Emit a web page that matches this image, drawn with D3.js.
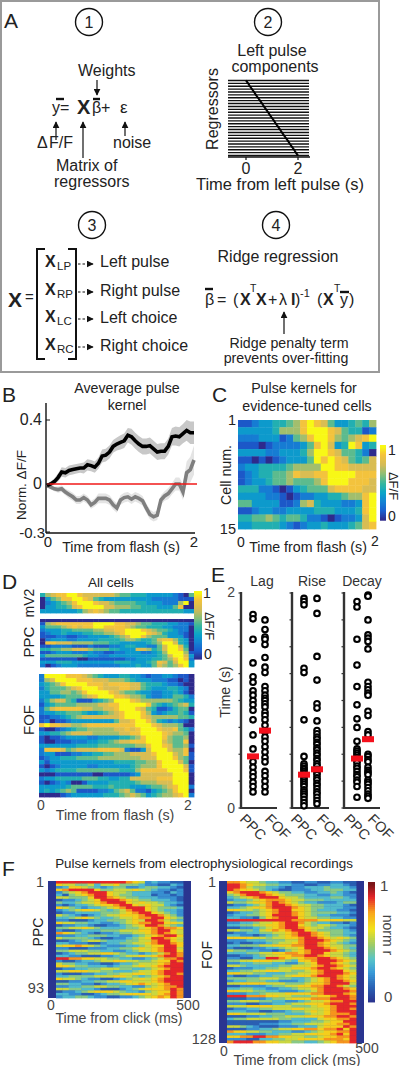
<!DOCTYPE html>
<html><head><meta charset="utf-8">
<script src="https://cdn.jsdelivr.net/npm/d3@7"></script>
<style>html,body{margin:0;padding:0;background:#fff}svg{display:block}text{font-family:"Liberation Sans",Arial,sans-serif;fill:#222}</style>
</head><body><svg id="c" width="400" height="1066"></svg>
<script>
// ---------- data ----------
const regressorPeaks=[0,.08,.15,.23,.31,.38,.46,.54,.62,.69,.77,.85,.92,1,1.08,1.15,1.23,1.31,1.38,1.46,1.54,1.62,1.69,1.77,1.85,1.92,2];
const timeB=[0,.05,.1,.15,.2,.25,.3,.35,.4,.45,.5,.55,.6,.65,.7,.75,.8,.85,.9,.95,1,1.05,1.1,1.15,1.2,1.25,1.3,1.35,1.4,1.45,1.5,1.55,1.6,1.65,1.7,1.75,1.8,1.85,1.9,1.95,2];
const kernelBlack=[-.01,0,.015,.04,.075,.07,.085,.09,.095,.1,.1,.12,.115,.105,.13,.175,.18,.2,.235,.25,.26,.27,.305,.295,.27,.25,.235,.235,.24,.22,.2,.205,.205,.235,.295,.3,.295,.315,.335,.32,.32];
const semBlack=[.01,.015,.02,.025,.03,.03,.03,.03,.03,.03,.035,.035,.035,.035,.035,.04,.04,.04,.04,.04,.045,.045,.045,.05,.05,.05,.05,.05,.05,.05,.05,.05,.05,.05,.055,.06,.06,.06,.065,.07,.07];
const kernelGray=[-.01,-.02,-.03,-.035,-.03,-.05,-.065,-.08,-.1,-.1,-.085,-.1,-.13,-.115,-.09,-.09,-.09,-.1,-.13,-.15,-.1,-.085,-.08,-.095,-.08,-.09,-.105,-.15,-.19,-.205,-.195,-.1,-.075,-.06,-.03,0,0,-.05,.07,.09,.15];
const semGray=[.01,.015,.015,.02,.02,.02,.025,.025,.025,.025,.025,.025,.025,.025,.03,.03,.03,.03,.03,.03,.03,.03,.03,.03,.03,.03,.03,.03,.03,.03,.03,.03,.03,.035,.035,.04,.04,.05,.07,.08,.09];
const ticksB=[0.4,0,-0.3];

const heatC=["11233445689875334546","33333466689998754412","22233312568998656789","11101222235897349834","33332233346998755420","11010123335989875457","23344445666699887777","12344556877889999888","12334556555689998887","44422101345557888877","33332210122334456689","55333311267433322389","11233223333444333489","44556545542210122379","33444432123343334578"];
const heatMV2=["46788998777777655444333332105","03568899875433333333322222111","02345689998776555544333222690","03344578999977666554443335800","33333334678765544444444444433"];
const heatPPC=["00000000000000000000000000000","16788888889999887765544433221","35556787889988887655444332220","23334455556677889998765543220","12334333445566789999876433210","11122112233334567998655533310","02333223333444456654457886430","08877766665554433333456997430","11222211121112234433225799740","44556677765554433377645799850","11233322232211223332234699961","35555555433223333333334579973","11111110011111112233344568982","33344433333333444333458757993","20123332222222233343357656893"];
const heatFOF=["29999888765433344332122332110","26799998887776665433322211010","34568999988878888775444322100","24555678999877788775433344320","33556656899998765543322334310","33334555678999887665322335542","24677541113456999876666665433","13455556666778899999854345674","25788888776677899987541124550","23344555433456789998632344541","11223456777777789998766666554","12011233333333577899864323210","89887766788888888899987666500","10012345566666778789998778542","33445677776666677889999876650","10112333322333344568999865560","10011122233445677888999765580","33333334444555555566899875561","28887567777888872113799976680","23311122334455666777789997681","12334445555666666667779998651","31333333333333444455668999750","10123333322333333456668999971","32344445555555544468888899981","00011111110011111237777779990","23344444555443344777778889990","10123200133334444456667779990","33333455554445444333455678992","34345651111223567522134568990","00001233333344456765345667892"];
const heatF1=["88888888888765232211","65544535564443221132","23665432344223443321","67888864455565432212","24567888655433322132","31456788654433312212","55444688765443332221","12234568887654433321","43345567888656554332","21233456678865655321","65432334567888654443","23456654345788654332","12233334445678865432","54321234556667887542","33456543345567788654","22111233444565887543","65544332234567788665","12233211223456887543","44556543333445678776","21123334445556678865","76543212234455678765","22233444332234567886","54444321122345688765","11234554333445578865","33222112334455678876","56676543222334566886","22111222334456567885","44555443322345567886","12344556654332345787","33221112234556567887","88776655443322345778","21123345566554456687","54433221123345556788","66544333234456567888","12233445554433456788","55666554433345567888","21112233445566567887","33444455566543456788","65543221123456567888","11223344556655567888","44332212334567656788","22334455443322456778","55443321112345666787","12234566654332456687","33221123445666656787","23344322112234567687"];
const heatF2=["77655433221122112211","88765544332211223321","88754433212233343332","87665432112223344433","67888765443322334321","45788876544433223322","34567888655433334432","23345677765544433333","54456678765433222344","12234578876554433321","33456678887654433322","66554567886654333221","12334567887654444332","23344568887654332221","33221467888655443322","88888888887777666655","22334556788754332212","33445566788654554332","11223456788765543321","55443567678865444432","12233445567887654433","33221234567887654432","66665545566788765654","22233344455788876543","12112234556788765432","33444556667788765544","21112233455688876543","54433221245678887654","33344556677678865543","11223455667788765543","22113388765677887654","44556665543667888765","22334443322456887654","55433333445556788765","12223344556667887654","33445566554456788865","66554433344556788876","21122334456667888765","44444555443345678765","23344433222345678876","55666655544456678885","11222234455667788754","33443322334556788876","66554433222345788887","22233455566667788876","88877766554445667887","11122234456667778887","44555443322345567788","22211223345566678887","55566665554445667888","12233445556655567887","33322112234456567888","66555544433345567778","11122334455566677887","34455555443333566778","11111111223334456688","11111222334455566778","55432111222333566687","11122334556677677868","76655443332234566778","33322233445566667868","66778877665544566778","22211334455666677768","78887766554433456778"];

const lagPPC=[1.8,1.76,1.57,1.35,1.22,1.17,1.09,1.05,1,.96,.91,.82,.68,.55,.43,.38,.33,.29,.24,.2,.15];
const lagFOF=[1.75,1.66,1.59,1.57,1.52,1.4,1.31,1.26,1.13,1.09,1.05,1.02,1,.97,.94,.89,.86,.82,.77,.71,.66,.62,.57,.52,.47,.43,.34,.3,.25,.2,.15];
const risePPC=[1.95,1.92,1.89,1.3,1.26,.82,.48,.41,.39,.37,.36,.34,.32,.3,.28,.26,.24,.22,.2,.17,.15,.13,.11,.08,.05,.02];
const riseFOF=[1.95,1.81,1.41,1.19,.97,.93,.81,.72,.69,.66,.64,.61,.59,.56,.54,.51,.49,.46,.44,.41,.39,.36,.33,.31,.28,.26,.23,.21,.18,.15,.13,.1,.07,.04];
const decayPPC=[1.92,1.87,1.57,1.33,1.13,.96,.83,.75,.62,.55,.53,.51,.49,.47,.44,.42,.39,.37,.34,.31,.29,.26,.24,.2,.1];
const decayFOF=[1.98,1.97,1.75,1.61,1.58,1.55,1.48,1.17,1.13,1.1,1.07,1.05,.9,.86,.71,.68,.5,.48,.45,.43,.38,.35,.33,.31,.26,.24,.22,.19,.16,.13,.11,.09];
const medians=[.48,.72,.31,.36,.46,.64];
const timeTicksE=[0,.25,.5,.75,1,1.25,1.5,1.75,2];

// ---------- helpers ----------
const svg=d3.select("#c");
const defs=svg.append("defs");
defs.append("marker").attr("id","ah").attr("viewBox","0 0 10 10").attr("refX",9).attr("refY",5)
  .attr("markerWidth",7).attr("markerHeight",7).attr("markerUnits","userSpaceOnUse").attr("orient","auto")
  .append("path").attr("d","M0,0L10,5L0,10Z").attr("fill","#111");
defs.append("filter").attr("id","soft").attr("x","-2%").attr("y","-2%").attr("width","104%").attr("height","104%")
  .append("feGaussianBlur").attr("stdDeviation",.45);
function T(x,y,s,o={}){
  const e=svg.append("text").attr("x",x).attr("y",y).text(s)
    .attr("font-size",o.size||14).attr("text-anchor",o.a||"start");
  if(o.w)e.attr("font-weight",o.w);
  if(o.fill)e.style("fill",o.fill);
  if(o.rot!=null)e.attr("transform",`rotate(${o.rot} ${x} ${y})`);
  return e;
}
function L(x1,y1,x2,y2,o={}){
  const e=svg.append("line").attr("x1",x1).attr("y1",y1).attr("x2",x2).attr("y2",y2)
    .attr("stroke",o.c||"#111").attr("stroke-width",o.w||1.2);
  if(o.arrow)e.attr("marker-end","url(#ah)");
  if(o.dash)e.attr("stroke-dasharray",o.dash);
  return e;
}
const circledNum=(x,y,n)=>{
  svg.append("circle").attr("cx",x).attr("cy",y).attr("r",13.5).attr("fill","#fff").attr("stroke","#111").attr("stroke-width",1.4);
  T(x,y+6,n,{size:16,a:"middle"});
};
const parula=d3.scaleLinear().domain([0,.125,.25,.375,.5,.625,.75,.9,1])
  .range(["#2f2a8c","#1a5fd0","#1483d4","#0ba6c8","#36b79f","#8abf78","#d2bb58","#f6c43a","#f8f814"]);
const jet=d3.scaleLinear().domain([0,.12,.25,.36,.48,.62,.76,.89,1])
  .range(["#2a3590","#2a62b5","#3a9bd8","#58c4c8","#9ccb6a","#f2e21c","#f9a51c","#e5262a","#7a1518"]);
function heat(rows,x0,x1,y0,y1,color,bg){
  const g=svg.append("g").attr("filter","url(#soft)");
  if(bg)g.append("rect").attr("x",bg[0]).attr("width",bg[1]-bg[0]).attr("y",y0).attr("height",y1-y0).attr("fill",color(0));
  const nc=rows[0].length;
  const x=d3.scaleBand().domain(d3.range(nc)).range([x0,x1]);
  const y=d3.scaleBand().domain(d3.range(rows.length)).range([y0,y1]);
  rows.forEach((r,i)=>{
    g.selectAll(null).data(r.split("")).enter().append("rect")
      .attr("x",(d,j)=>x(j)).attr("y",y(i)).attr("width",x.bandwidth()+.4).attr("height",y.bandwidth()+.4)
      .attr("fill",d=>color(+d/9));
  });
}
function cbar(x0,x1,y0,y1,color){
  const y=d3.scaleLinear().domain([1,0]).range([y0,y1]);
  const g=svg.append("g");
  g.selectAll(null).data(d3.range(0,1.0001,1/60)).enter().append("rect")
    .attr("x",x0).attr("width",x1-x0).attr("y",d=>y(d)-1).attr("height",(y1-y0)/60+1.5).attr("fill",d=>color(d));
}

// ---------- panel A ----------
svg.append("rect").attr("x",1).attr("y",1).attr("width",378).attr("height",371).attr("fill","#fff").attr("stroke","#9a9a9a").attr("stroke-width",2);
T(4,28,"A",{size:21});
circledNum(89,22,"1");circledNum(268,22,"2");circledNum(92,225,"3");circledNum(276,225,"4");

T(78,76,"Weights",{size:16});
L(97,80,97,95,{arrow:1});
T(52,113,"y",{size:16});T(60,113,"=",{size:16});
L(56,99,64,99,{w:2.4});
T(77,114,"X",{size:20,w:"bold"});
T(92,113,"β",{size:16});L(93,99,100,99,{w:2.4});
T(101,113,"+",{size:16});
T(120,113,"ε",{size:17});
L(56,140,56,122,{arrow:1});L(83,158,83,122,{arrow:1});L(125,136,125,122,{arrow:1});
T(37,148,"Δ",{size:16});T(49,148,"F/F",{size:16});
T(113,148,"noise",{size:16});
T(56,171,"Matrix of",{size:16});T(54,186.5,"regressors",{size:16});

// regressors image
const xR=d3.scaleLinear().domain([0,2]).range([246,298]);
const yR=d3.scaleBand().domain(d3.range(regressorPeaks.length)).range([79,157]);
regressorPeaks.forEach((p,i)=>{
  L(228,yR(i)+yR.bandwidth()/2,309,yR(i)+yR.bandwidth()/2,{w:1.4,c:"#111"});
});
svg.append("path").attr("d",d3.line().x(d=>xR(d)).y((d,i)=>yR(i)+yR.bandwidth()/2)(regressorPeaks)).attr("fill","none").attr("stroke","#000").attr("stroke-width",2);
L(228,157,310,157,{w:1.5});
T(272,56,"Left pulse",{size:16,a:"middle"});T(275,71.5,"components",{size:16,a:"middle"});
T(218,109,"Regressors",{size:16,a:"middle",rot:-90});
[[0,"0"],[2,"2"]].forEach(d=>{L(xR(d[0]),157,xR(d[0]),160);T(xR(d[0]),174,d[1],{size:16,a:"middle"});});
T(280,190,"Time from left pulse (s)",{size:16.5,a:"middle"});

// panel 3
T(8,307,"X",{size:21,w:"bold"});T(25,302,"=",{size:15});
const brk=(x,dir)=>svg.append("path").attr("d",`M${x+8*dir},249H${x}V359H${x+8*dir}`).attr("fill","none").attr("stroke","#111").attr("stroke-width",2);
brk(37,1);brk(76,-1);
const rowsX=[["LP","Left pulse",267,264],["RP","Right pulse",295,292],["LC","Left choice",322,319],["RC","Right choice",350,347]];
rowsX.forEach(r=>{
  T(45,r[2],"X",{size:16,w:"bold"});T(57,r[2]+3,r[0],{size:11.5});
  L(78,r[3],93,r[3],{arrow:1,dash:"2.5 2",w:1});
  T(100,r[2]+(r[2]==267?0:1),r[1],{size:16});
});

// panel 4
T(278,262,"Ridge regression",{size:16,a:"middle"});
T(205,305,"β",{size:16});T(217,305,"=",{size:16});T(233,305,"(",{size:16});
L(205,289,213,289,{w:2.4});
T(240,305,"X",{size:16,w:"bold"});T(250,292,"T",{size:10.5});
T(256,305,"X",{size:16,w:"bold"});T(268,305,"+",{size:16});
T(279,305,"λ",{size:16});T(291,305,"I",{size:16,w:"bold"});T(295,305,")",{size:16});
T(300,297,"-1",{size:11});
T(317,305,"(",{size:16});T(323,305,"X",{size:16,w:"bold"});T(334,292,"T",{size:10.5});
T(340,305,"y",{size:16});L(340,292,349,292,{w:2.4});T(349,305,")",{size:16});
L(284,334,284,312,{arrow:1});
T(289,348,"Ridge penalty term",{size:14.2,a:"middle"});
T(286,363,"prevents over-fitting",{size:14.2,a:"middle"});

// ---------- panel B ----------
T(2,402,"B",{size:21});
T(127,393,"Aveverage pulse",{size:14.2,a:"middle"});T(127,410,"kernel",{size:14.2,a:"middle"});
const xB=d3.scaleLinear().domain([0,2]).range([47,194]);
const yB=d3.scaleLinear().domain([-.3,.5]).range([532,404]);
const area=(v,s)=>d3.area().x((d,i)=>xB(timeB[i])).y0((d,i)=>yB(v[i]-s[i])).y1((d,i)=>yB(v[i]+s[i]))(v);
const line=v=>d3.line().x((d,i)=>xB(timeB[i])).y(d=>yB(d))(v);
svg.append("path").attr("d",area(kernelGray,semGray)).attr("fill","#e4e4e4");
svg.append("path").attr("d",area(kernelBlack,semBlack)).attr("fill","#c8c8c8");
svg.append("path").attr("d",line(kernelGray)).attr("fill","none").attr("stroke","#7f7f7f").attr("stroke-width",3.6);
svg.append("path").attr("d",line(kernelBlack)).attr("fill","none").attr("stroke","#000").attr("stroke-width",3.6);
L(xB(0),yB(0),197,yB(0),{c:"#f01818",w:1.3});
L(46,403,46,533,{w:1.4});L(46,533,195,533,{w:1.4});
ticksB.forEach(t=>{L(46,yB(t),50,yB(t),{w:1});});
T(42,425,"0.4",{size:16,a:"end"});T(42,489,"0",{size:16,a:"end"});T(45,538,"-0.3",{size:15,a:"end"});
T(48,547,"0",{size:15,a:"middle"});T(194,547,"2",{size:15,a:"middle"});
T(121,552,"Time from flash (s)",{size:14.2,a:"middle"});
T(26,485,"Norm. ΔF/F",{size:13.5,a:"middle",rot:-90});

// ---------- panel C ----------
T(212,402,"C",{size:21});
T(304,393,"Pulse kernels for",{size:14.2,a:"middle"});T(307,411,"evidence-tuned cells",{size:14.2,a:"middle"});
heat(heatC,238,376,420,529,parula);
cbar(380,386,446,519,parula);
T(236,425,"1",{size:14.5,a:"end"});T(236,534,"15",{size:14.5,a:"end"});
T(231,475,"Cell num.",{size:14.2,a:"middle",rot:-90});
T(241,547,"0",{size:14,a:"middle"});T(375,546,"2",{size:14,a:"middle"});
T(308,552,"Time from flash (s)",{size:14.2,a:"middle"});
T(388,455,"1",{size:14});T(388,521,"0",{size:14});
T(389,486,"ΔF/F",{size:13,a:"middle",rot:90});

// ---------- panel D ----------
T(2,589,"D",{size:21});
T(111,587,"All cells",{size:13.5,a:"middle"});
heat(heatMV2,40,194,593,613,parula);
heat(heatPPC,40,194,619,667,parula);
heat(heatFOF,39,194,674,797,parula);
cbar(194,202,592,658,parula);
T(34,603,"mV2",{size:14,a:"middle",rot:-90});
T(34,642,"PPC",{size:15,a:"middle",rot:-90});
T(34,720,"FOF",{size:15,a:"middle",rot:-90});
T(203,598,"1",{size:14});T(204,659,"0",{size:14});
T(205,626,"ΔF/F",{size:13,a:"middle",rot:90});
T(41,810,"0",{size:14,a:"middle",fill:"#444"});T(188,810,"2",{size:14,a:"middle",fill:"#444"});
T(115,819.5,"Time from flash (s)",{size:14.3,a:"middle",fill:"#444"});

// ---------- panel E ----------
T(211,582,"E",{size:21});
const yE=d3.scaleLinear().domain([0,2]).range([808,593]);
const groups=[
 {name:"Lag",ax:241,end:277,xs:[253,265],d:[lagPPC,lagFOF],mid:262},
 {name:"Rise",ax:292,end:329,xs:[304,317],d:[risePPC,riseFOF],mid:312},
 {name:"Decay",ax:344,end:380,xs:[357,368],d:[decayPPC,decayFOF],mid:362}];
groups.forEach((g,gi)=>{
  L(g.ax,592,g.ax,809,{w:2.4,c:"#333"});L(g.ax,808,g.end,808,{w:2.2,c:"#333"});
  timeTicksE.forEach(t=>L(g.ax-2.5,yE(t),g.ax,yE(t),{w:1.2,c:"#333"}));
  T(g.mid,586,g.name,{size:14,a:"middle",fill:"#333"});
  g.d.forEach((arr,k)=>{
    svg.append("g").selectAll(null).data(arr).enter().append("circle")
      .attr("cx",g.xs[k]).attr("cy",d=>yE(d)).attr("r",2.8).attr("fill","#fff").attr("stroke","#000").attr("stroke-width",2.1);
    svg.append("rect").attr("x",g.xs[k]-6).attr("width",12).attr("y",yE(medians[gi*2+k])-3).attr("height",6).attr("fill","#f4101c");
    T(g.xs[k]-(k?1:14),820,k?"FOF":"PPC",{size:14.5,rot:45,fill:"#333"});
  });
});
T(235,597,"2",{size:14,a:"end",fill:"#444"});T(235,813,"0",{size:14,a:"end",fill:"#444"});
T(230,692,"Time (s)",{size:14.2,a:"middle",rot:-90,fill:"#333"});

// ---------- panel F ----------
T(2,876,"F",{size:21});
T(204,868,"Pulse kernels from electrophysiological recordings",{size:13.4,a:"middle"});
heat(heatF1,56,183,881,998,jet,[48,191]);
heat(heatF2,227,356,881,1043,jet,[219,364]);
cbar(368,375,883,1000,jet);
T(44,887,"1",{size:14.5,a:"end",fill:"#444"});T(44,993,"93",{size:14.5,a:"end",fill:"#444"});
T(43,932,"PPC",{size:14,a:"middle",rot:-90});
T(51,1010,"0",{size:14,a:"middle",fill:"#444"});T(188,1010,"500",{size:14,a:"middle",fill:"#444"});
T(119,1023,"Time from click (ms)",{size:14.2,a:"middle",fill:"#444"});
T(216,887,"1",{size:14.5,a:"end",fill:"#444"});T(216,1044,"128",{size:14.5,a:"end",fill:"#444"});
T(212,955,"FOF",{size:14,a:"middle",rot:-90});
T(224,1056,"0",{size:14,a:"middle",fill:"#444"});T(367,1052.5,"500",{size:14,a:"middle",fill:"#444"});
T(297,1064.5,"Time from click (ms)",{size:14.2,a:"middle",fill:"#444"});
T(380,891,"1",{size:15,fill:"#444"});T(384,1002,"0",{size:15,fill:"#444"});
T(383,935,"norm r",{size:14,a:"middle",rot:90,fill:"#444"});
</script></body></html>
